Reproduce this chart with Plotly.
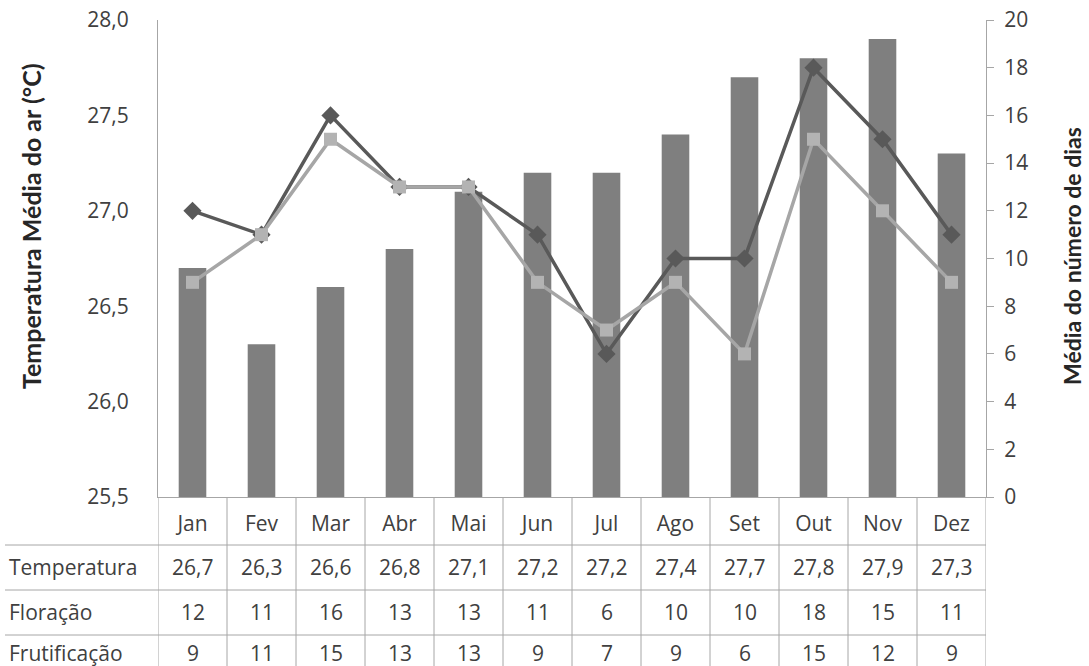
import plotly.graph_objects as go

months = ["Jan", "Fev", "Mar", "Abr", "Mai", "Jun", "Jul", "Ago", "Set", "Out", "Nov", "Dez"]
temperatura = [26.7, 26.3, 26.6, 26.8, 27.1, 27.2, 27.2, 27.4, 27.7, 27.8, 27.9, 27.3]
floracao = [12, 11, 16, 13, 13, 11, 6, 10, 10, 18, 15, 11]
frutificacao = [9, 11, 15, 13, 13, 9, 7, 9, 6, 15, 12, 9]
row_names = ["Temperatura", "Floração", "Frutificação"]

W, H = 1089, 666
L, R, T, B = 158, 986, 20, 497
pw, ph = R - L, B - T

def py(ypx):
    return (B - ypx) / ph

def px(xpx):
    return (xpx - L) / pw

FONT = "Open Sans"
TXT = "#404040"
GRID = "#a6a6a6"
FS = 21

fig = go.Figure()
fig.add_trace(go.Bar(x=months, y=temperatura, marker_color="#7f7f7f",
                     marker_line_width=0, name="Temperatura", yaxis="y"))
fig.add_trace(go.Scatter(x=months, y=floracao, mode="lines+markers", name="Floração",
                         line=dict(color="#595959", width=3.5),
                         marker=dict(symbol="diamond", size=14, color="#595959"),
                         yaxis="y2"))
fig.add_trace(go.Scatter(x=months, y=frutificacao, mode="lines+markers", name="Frutificação",
                         line=dict(color="#a6a6a6", width=3.5),
                         marker=dict(symbol="square", size=13, color="#b3b3b3"),
                         yaxis="y2"))

shapes = []
annotations = []
for k in range(13):
    shapes.append(dict(type="line", xref="x", yref="paper", x0=k - 0.5, x1=k - 0.5,
                       y0=0, y1=py(H + 2), line=dict(color=GRID, width=1)))
for ypx in [545, 590, 635]:
    shapes.append(dict(type="line", xref="paper", yref="paper", x0=px(5), x1=1,
                       y0=py(ypx), y1=py(ypx), line=dict(color=GRID, width=1)))

row_y = [567, 612, 653]
row_vals = [[f"{v:.1f}".replace(".", ",") for v in temperatura],
            [str(v) for v in floracao],
            [str(v) for v in frutificacao]]
for name, ypx, vals in zip(row_names, row_y, row_vals):
    annotations.append(dict(text=name, xref="paper", yref="paper", x=px(7), y=py(ypx),
                            xanchor="left", yanchor="middle", showarrow=False,
                            font=dict(family=FONT, size=FS, color=TXT)))
    for m, v in zip(months, vals):
        annotations.append(dict(text=v, xref="x", yref="paper", x=m, y=py(ypx),
                                xanchor="center", yanchor="middle", showarrow=False,
                                font=dict(family=FONT, size=FS, color=TXT)))

annotations.append(dict(text="<b>Temperatura Média do ar (°C)</b>", xref="paper", yref="paper",
                        x=px(31), y=py(226), xanchor="center", yanchor="middle",
                        textangle=-90, showarrow=False,
                        font=dict(family="Lato", size=25, color="#262626")))
annotations.append(dict(text="<b>Média do número de dias</b>", xref="paper", yref="paper",
                        x=px(1072), y=py(256), xanchor="center", yanchor="middle",
                        textangle=-90, showarrow=False,
                        font=dict(family="Lato", size=23, color="#262626")))

fig.update_layout(
    width=W, height=H,
    margin=dict(l=L, r=W - R, t=T, b=H - B, pad=0, autoexpand=False),
    plot_bgcolor="white", paper_bgcolor="white",
    separators=",.",
    showlegend=False,
    bargap=0.6,
    font=dict(family=FONT, size=FS, color=TXT),
    xaxis=dict(showline=True, linecolor=GRID, linewidth=1, ticks="", showgrid=False,
               tickfont=dict(family=FONT, size=FS, color=TXT), ticklabelstandoff=8,
               range=[-0.5, 11.5], automargin=False),
    yaxis=dict(range=[25.5, 28.0], dtick=0.5, tickformat=".1f", showgrid=False,
               showline=True, linecolor=GRID, linewidth=1, ticks="",
               ticklabelstandoff=24, zeroline=False, automargin=False,
               tickfont=dict(family=FONT, size=FS, color=TXT)),
    yaxis2=dict(range=[0, 20], dtick=2, overlaying="y", side="right", showgrid=False,
                showline=True, linecolor=GRID, linewidth=1, ticks="outside", ticklen=7,
                tickcolor=GRID, zeroline=False, automargin=False, ticklabelstandoff=6,
                tickfont=dict(family=FONT, size=FS, color=TXT)),
    shapes=shapes,
    annotations=annotations,
)

fig.write_html("out.html", config={"displayModeBar": False},
               post_script="document.body.style.margin='0';document.body.style.overflow='hidden';")
